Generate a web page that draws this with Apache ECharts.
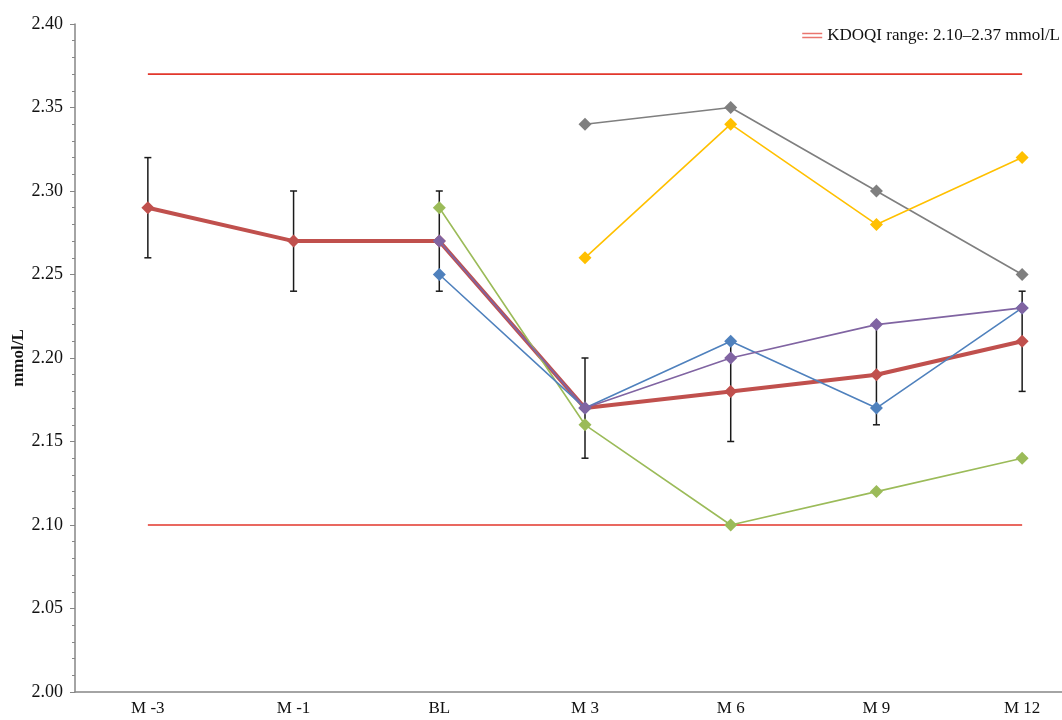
<!DOCTYPE html>
<html>
<head>
<meta charset="utf-8">
<script src="https://cdn.jsdelivr.net/npm/echarts@6/dist/echarts.min.js"></script>
<style>
  html, body { margin: 0; padding: 0; background: #fff; }
  #chart { width: 1062px; height: 720px; }
</style>
</head>
<body>
<div id="chart"></div>
<script>
// Visit labels along the x axis
const visits = ['M -3', 'M -1', 'BL', 'M 3', 'M 6', 'M 9', 'M 12'];

// Mean serum calcium (mmol/L) with error bar limits
const meanCa = [2.29, 2.27, 2.27, 2.17, 2.18, 2.19, 2.21];
const errLow = [2.26, 2.24, 2.24, 2.14, 2.15, 2.16, 2.18];
const errHigh = [2.32, 2.30, 2.30, 2.20, 2.21, 2.22, 2.24];

// Individual patient courses (null = no measurement)
const patientGray = [null, null, null, 2.34, 2.35, 2.30, 2.25];
const patientYellow = [null, null, null, 2.26, 2.34, 2.28, 2.32];
const patientGreen = [null, null, 2.29, 2.16, 2.10, 2.12, 2.14];
const patientBlue = [null, null, 2.25, 2.17, 2.21, 2.17, 2.23];
const patientPurple = [null, null, 2.27, 2.17, 2.20, 2.22, 2.23];

// KDOQI target range limits
const kdoqiLow = 2.10;
const kdoqiHigh = 2.37;
const kdoqiName = 'KDOQI range: 2.10\u20132.37 mmol/L';

const chart = echarts.init(document.getElementById('chart'), null, { renderer: 'canvas' });

const font = '"Liberation Serif", "Times New Roman", serif';

function patientSeries(name, values, color) {
  return {
    name: name,
    type: 'line',
    data: values,
    symbol: 'diamond',
    symbolSize: 13,
    showAllSymbol: true,
    lineStyle: { color: color, width: 1.6 },
    itemStyle: { color: color },
    emphasis: { disabled: true },
    z: 4
  };
}

const errData = visits.map((v, i) => [i, errLow[i], errHigh[i]]);

chart.setOption({
  animation: false,
  backgroundColor: '#ffffff',
  textStyle: { fontFamily: font },
  // plot area runs past the right edge so the last category sits near it
  grid: {
    left: 75, right: -33, top: 24, bottom: 28,
    containLabel: false,
    outerBoundsMode: 'none'
  },
  legend: {
    data: [kdoqiName],
    right: 2,
    top: 27,
    padding: 0,
    itemWidth: 20,
    itemHeight: 10,
    itemGap: 10,
    textStyle: { fontFamily: font, fontSize: 17, color: '#111' },
    icon: 'path://M0,0 L20,0 L20,1.5 L0,1.5 Z M0,4 L20,4 L20,5.5 L0,5.5 Z',
    itemStyle: { color: '#e9756e' }
  },
  xAxis: {
    type: 'category',
    data: visits,
    boundaryGap: true,
    axisLine: { lineStyle: { color: '#868686', width: 1.5 } },
    axisTick: { show: false },
    axisLabel: { fontFamily: font, fontSize: 17, color: '#111', margin: 8 },
    splitLine: { show: false }
  },
  yAxis: {
    type: 'value',
    min: 2.0,
    max: 2.4,
    interval: 0.05,
    name: 'mmol/L',
    nameLocation: 'middle',
    nameGap: 48,
    nameMoveOverlap: false,
    nameRotate: 90,
    nameTextStyle: { fontFamily: font, fontSize: 17, fontWeight: 'bold', color: '#111' },
    axisLine: { show: true, lineStyle: { color: '#868686', width: 1.5 } },
    axisTick: { show: true, inside: false, length: 5, lineStyle: { color: '#868686' } },
    minorTick: { show: true, splitNumber: 5, length: 3, lineStyle: { color: '#868686' } },
    axisLabel: {
      fontFamily: font, fontSize: 18, color: '#111', margin: 12,
      formatter: v => v.toFixed(2)
    },
    splitLine: { show: false }
  },
  series: [
    {
      name: kdoqiName,
      type: 'line',
      data: visits.map(() => kdoqiHigh),
      symbol: 'none',
      lineStyle: { color: '#e2372c', width: 1.6 },
      itemStyle: { color: '#e2372c' },
      emphasis: { disabled: true },
      z: 1
    },
    {
      name: kdoqiName,
      type: 'line',
      data: visits.map(() => kdoqiLow),
      symbol: 'none',
      lineStyle: { color: '#e2372c', width: 1.6 },
      itemStyle: { color: '#e2372c' },
      emphasis: { disabled: true },
      z: 1
    },
    {
      name: 'error',
      type: 'custom',
      data: errData,
      z: 2,
      renderItem: function (params, api) {
        const x = api.value(0);
        const lo = api.coord([x, api.value(1)]);
        const hi = api.coord([x, api.value(2)]);
        const cap = 3.5;
        const style = { stroke: '#1a1a1a', lineWidth: 1.5 };
        return {
          type: 'group',
          children: [
            { type: 'line', shape: { x1: lo[0], y1: lo[1], x2: hi[0], y2: hi[1] }, style: style },
            { type: 'line', shape: { x1: lo[0] - cap, y1: lo[1], x2: lo[0] + cap, y2: lo[1] }, style: style },
            { type: 'line', shape: { x1: hi[0] - cap, y1: hi[1], x2: hi[0] + cap, y2: hi[1] }, style: style }
          ]
        };
      }
    },
    {
      name: 'Mean',
      type: 'line',
      data: meanCa,
      symbol: 'diamond',
      symbolSize: 13,
      lineStyle: { color: '#c0504d', width: 4 },
      itemStyle: { color: '#c0504d' },
      emphasis: { disabled: true },
      z: 3
    },
    patientSeries('Patient 1', patientGray, '#7f7f7f'),
    patientSeries('Patient 2', patientYellow, '#ffc000'),
    patientSeries('Patient 3', patientGreen, '#9bbb59'),
    patientSeries('Patient 4', patientBlue, '#4f81bd'),
    patientSeries('Patient 5', patientPurple, '#8064a2')
  ]
});
</script>
</body>
</html>
